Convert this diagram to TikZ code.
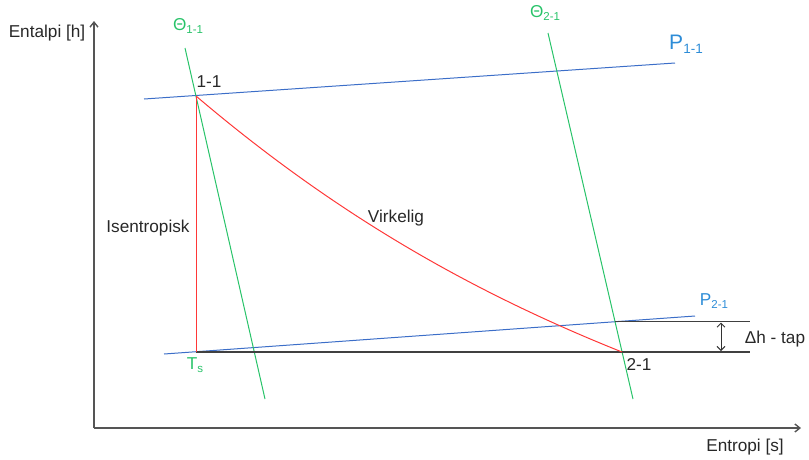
\documentclass[tikz,border=0pt]{standalone}
\usepackage{fontspec}
\setmainfont{Liberation Sans}
\usetikzlibrary{arrows.meta}
\definecolor{axisgray}{RGB}{85,85,85}
\definecolor{pblue}{RGB}{60,110,200}
\definecolor{plabel}{RGB}{45,140,215}
\definecolor{tgreen}{RGB}{40,195,105}
\definecolor{cred}{RGB}{255,55,55}
\definecolor{txt}{RGB}{40,40,40}
\newcommand{\sbs}[1]{{\fontsize{11.5}{12}\selectfont\raisebox{-0.45ex}{#1}}}
\newcommand{\sbsL}[1]{{\fontsize{13.5}{14}\selectfont\raisebox{-0.5ex}{#1}}}
\begin{document}
\begin{tikzpicture}[x=1pt,y=-1pt,
  lbl/.style={inner sep=0pt,text=txt,font=\fontsize{17.2}{19}\selectfont},
  glbl/.style={lbl,text=tgreen},
  blbl/.style={lbl,text=plabel},
  axisline/.style={draw=axisgray,line width=1.4pt,-{Straight Barb[length=5pt,width=8pt]}},
  pline/.style={draw=pblue,line width=1pt},
  tline/.style={draw=tgreen,line width=1pt},
  rline/.style={draw=cred,line width=1pt},
  kline/.style={draw=black!75,line width=1.2pt},
  dim/.style={draw=black!80,line width=1pt,{Straight Barb[length=4pt,width=8pt]}-{Straight Barb[length=4pt,width=8pt]}}]
\useasboundingbox (0,0) rectangle (809,459);
% axes
\coordinate (O) at (94,428);
\coordinate (Ytop) at (94,21);
\coordinate (Xend) at (801,428);
\draw[axisline] (O) -- (Ytop);
\draw[axisline] (O) -- (Xend);
\node[lbl] (ylab) at (47,33) {Entalpi [h]};
\node[lbl] (xlab) at (745,447) {Entropi [s]};
% key points
\coordinate (p11) at (196,96);
\coordinate (ts) at (196,352);
\coordinate (p21) at (622,352);
\coordinate (q21) at (615,321.5);
% pressure lines
\coordinate (P1a) at (144,99);
\coordinate (P1b) at (675,63);
\draw[pline] (P1a) -- (P1b);
\coordinate (P2a) at (164,354);
\coordinate (P2b) at (695,316);
\draw[pline] (P2a) -- (P2b);
% temperature lines
\coordinate (T1a) at (185,48);
\coordinate (T1b) at (265,399);
\draw[tline] (T1a) -- (T1b);
\coordinate (T2a) at (548,33);
\coordinate (T2b) at (633,399);
\draw[tline] (T2a) -- (T2b);
% black horizontals
\coordinate (H1end) at (750,352);
\coordinate (H2end) at (750,321.5);
\draw[kline] (ts) -- (H1end);
\draw[kline] (q21) -- (H2end);
\coordinate (DA) at (721,322.5);
\coordinate (DB) at (721,351);
\draw[dim] (DA) -- (DB);
% process lines
\draw[rline] (p11) -- (ts);
\draw[rline] (p11) .. controls (336,215) and (472,292) .. (p21);
% labels
\node[glbl] (th11) at (188,26) {Θ\sbs{1-1}};
\node[glbl] (th21) at (545,13) {Θ\sbs{2-1}};
\node[blbl,font=\fontsize{21}{24}\selectfont] (lp11) at (686,44) {P\sbsL{1-1}};
\node[blbl] (lp21) at (714,301) {P\sbs{2-1}};
\node[lbl] (l11) at (209,82) {1-1};
\node[lbl] (liso) at (148,228) {Isentropisk};
\node[lbl] (lvirk) at (396,218) {Virkelig};
\node[glbl] (lts) at (195,365) {T\sbs{s}};
\node[lbl] (l21) at (639,364) {2-1};
\node[lbl] (ldh) at (775,339) {Δh - tap};
\end{tikzpicture}
\end{document}
